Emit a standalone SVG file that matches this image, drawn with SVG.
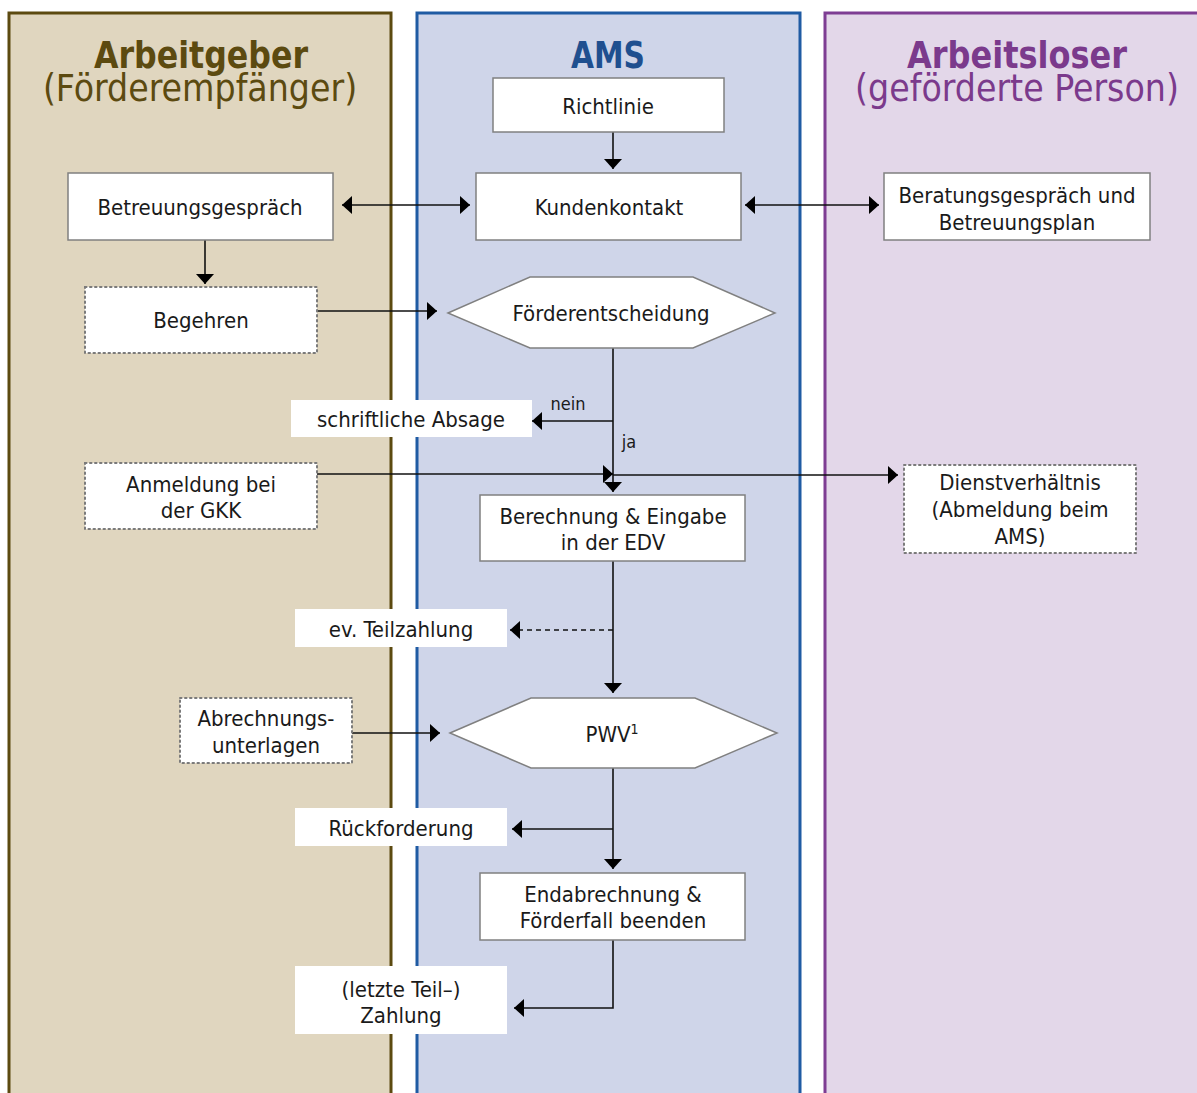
<svg xmlns="http://www.w3.org/2000/svg" width="1197" height="1093" viewBox="0 0 1197 1093">
<style>
  text { font-family: 'DejaVu Sans Condensed', 'DejaVu Sans', sans-serif; font-stretch: condensed; }
  .lbl { font-size: 22px; fill: #1a1a1a; text-anchor: middle; }
  .small { font-size: 18px; fill: #1a1a1a; text-anchor: middle; }
  .box { fill: #ffffff; stroke: #808080; stroke-width: 1.5; }
  .dot { fill: #ffffff; stroke: #7a7a7a; stroke-width: 2; stroke-dasharray: 1.5 3.5; stroke-linecap: round; }
  .plain { fill: #ffffff; stroke: none; }
  .hdr { font-size: 38px; text-anchor: middle; font-weight: bold; }
  .sub { font-size: 37px; text-anchor: middle; }
  .ln { fill: none; stroke: #111; stroke-width: 1.6; }
  .arr { marker-end: url(#ah); }
  .both { marker-start: url(#ah); marker-end: url(#ah); }
</style>
<defs>
  <marker id="ah" viewBox="0 0 10 18" markerWidth="10" markerHeight="18" refX="10" refY="9" orient="auto-start-reverse" markerUnits="userSpaceOnUse">
    <path d="M0,0 L10,9 L0,18 z" fill="#000"/>
  </marker>
</defs>
<rect width="1197" height="1093" fill="#ffffff"/>
<g id="lanes">
  <rect x="9" y="13" width="382" height="1100" fill="#e0d6bf" stroke="#5c4a10" stroke-width="3"/>
  <rect x="417" y="13" width="383" height="1100" fill="#cfd5e9" stroke="#1f5ba3" stroke-width="3"/>
  <rect x="825" y="13" width="400" height="1100" fill="#e3d7e9" stroke="#7e3d93" stroke-width="3"/>
  <text class="hdr" x="201" y="68" fill="#5c4a10" textLength="214" lengthAdjust="spacingAndGlyphs">Arbeitgeber</text>
  <text class="sub" x="200" y="101" fill="#5c4a10">(Förderempfänger)</text>
  <text class="hdr" x="608" y="68" fill="#1f4f8f" textLength="74" lengthAdjust="spacingAndGlyphs">AMS</text>
  <text class="hdr" x="1017" y="68" fill="#7b3a8c" textLength="220" lengthAdjust="spacingAndGlyphs">Arbeitsloser</text>
  <text class="sub" x="1017" y="101" fill="#7b3a8c">(geförderte Person)</text>
</g>
<g id="connectors">
  <path class="ln arr" d="M613,132 V169"/>
  <path class="ln both" d="M342,205 H470"/>
  <path class="ln both" d="M745,205 H879"/>
  <path class="ln arr" d="M205,240 V284"/>
  <path class="ln arr" d="M317,311 H437"/>
  <path class="ln arr" d="M613,348 V492"/>
  <path class="ln arr" d="M613,421 H532"/>
  <path class="ln arr" d="M317,474 H613"/>
  <path class="ln arr" d="M613,475 H898"/>
  <path class="ln arr" d="M613,561 V693"/>
  <path class="ln arr" d="M613,630 H510" stroke-dasharray="5 4"/>
  <path class="ln arr" d="M352,733 H440"/>
  <path class="ln arr" d="M613,768 V869"/>
  <path class="ln arr" d="M613,829 H512"/>
  <path class="ln arr" d="M613,940 V1008 H514"/>
  <text class="small" x="568" y="410">nein</text>
  <text class="small" x="629" y="448">ja</text>
</g>
<g id="richtlinie">
  <rect class="box" x="493" y="78" width="231" height="54"/>
  <text class="lbl" x="608" y="114">Richtlinie</text>
</g>
<g id="kundenkontakt">
  <rect class="box" x="476" y="173" width="265" height="67"/>
  <text class="lbl" x="609" y="215">Kundenkontakt</text>
</g>
<g id="betreuungsgespraech">
  <rect class="box" x="68" y="173" width="265" height="67"/>
  <text class="lbl" x="200" y="215">Betreuungsgespräch</text>
</g>
<g id="beratungsgespraech">
  <rect class="box" x="884" y="173" width="266" height="67"/>
  <text class="lbl" x="1017" y="203">Beratungsgespräch und</text>
  <text class="lbl" x="1017" y="230">Betreuungsplan</text>
</g>
<g id="begehren">
  <rect class="dot" x="85" y="287" width="232" height="66"/>
  <text class="lbl" x="201" y="328">Begehren</text>
</g>
<g id="foerderentscheidung">
  <polygon class="box" points="448,313 530,277 693,277 775,313 693,348 530,348"/>
  <text class="lbl" x="611" y="321">Förderentscheidung</text>
</g>
<g id="absage">
  <rect class="plain" x="291" y="400" width="241" height="37"/>
  <text class="lbl" x="411" y="427">schriftliche Absage</text>
</g>
<g id="anmeldung">
  <rect class="dot" x="85" y="463" width="232" height="66"/>
  <text class="lbl" x="201" y="492">Anmeldung bei</text>
  <text class="lbl" x="201" y="518">der GKK</text>
</g>
<g id="dienstverhaeltnis">
  <rect class="dot" x="904" y="465" width="232" height="88"/>
  <text class="lbl" x="1020" y="490">Dienstverhältnis</text>
  <text class="lbl" x="1020" y="517">(Abmeldung beim</text>
  <text class="lbl" x="1020" y="544">AMS)</text>
</g>
<g id="berechnung">
  <rect class="box" x="480" y="495" width="265" height="66"/>
  <text class="lbl" x="613" y="524">Berechnung &amp; Eingabe</text>
  <text class="lbl" x="613" y="550">in der EDV</text>
</g>
<g id="teilzahlung">
  <rect class="plain" x="295" y="609" width="212" height="38"/>
  <text class="lbl" x="401" y="637">ev. Teilzahlung</text>
</g>
<g id="abrechnungsunterlagen">
  <rect class="dot" x="180" y="698" width="172" height="65"/>
  <text class="lbl" x="266" y="726">Abrechnungs-</text>
  <text class="lbl" x="266" y="753">unterlagen</text>
</g>
<g id="pwv">
  <polygon class="box" points="450,733 531,698 695,698 777,733 695,768 531,768"/>
  <text class="lbl" x="612" y="742">PWV<tspan font-size="14" dy="-8">1</tspan></text>
</g>
<g id="rueckforderung">
  <rect class="plain" x="295" y="808" width="212" height="38"/>
  <text class="lbl" x="401" y="836">Rückforderung</text>
</g>
<g id="endabrechnung">
  <rect class="box" x="480" y="873" width="265" height="67"/>
  <text class="lbl" x="613" y="902">Endabrechnung &amp;</text>
  <text class="lbl" x="613" y="928">Förderfall beenden</text>
</g>
<g id="letzte-zahlung">
  <rect class="plain" x="295" y="966" width="212" height="68"/>
  <text class="lbl" x="401" y="997">(letzte Teil–)</text>
  <text class="lbl" x="401" y="1023">Zahlung</text>
</g>
</svg>
